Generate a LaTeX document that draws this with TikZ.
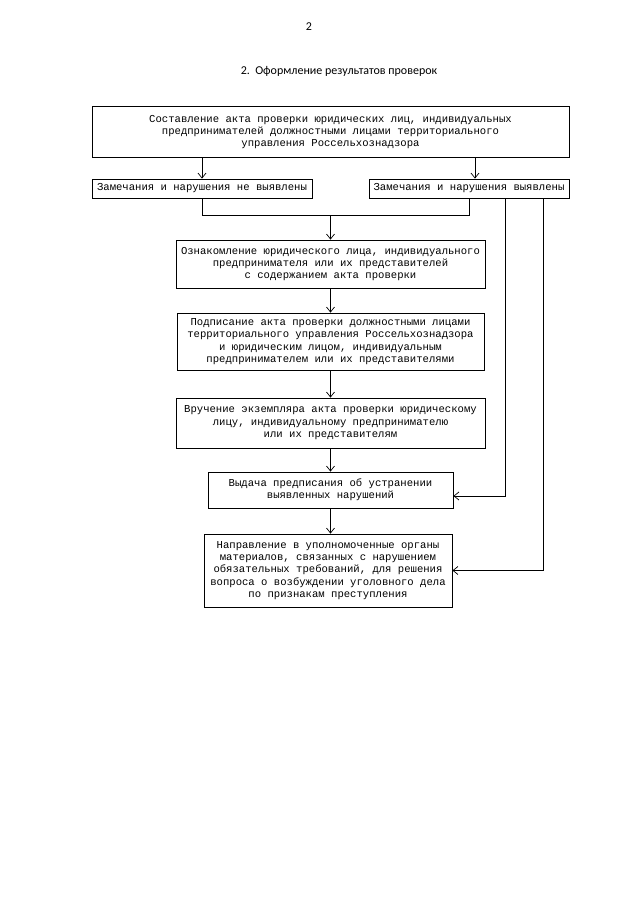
\documentclass[tikz,border=0pt]{standalone}
\usepackage{fontspec}
\setmainfont{Carlito}
\newfontfamily\boxfont{Liberation Mono}
\usepackage{tikz}
\usetikzlibrary{arrows.meta}

\begin{document}
\begin{tikzpicture}[
  x=1pt,y=-1pt,
  blok/.style={draw,line width=0.8pt,align=center,inner sep=1pt,
    font=\boxfont\fontsize{10.6}{12.4}\selectfont},
  arr/.style={line width=0.7pt,-{Straight Barb[length=5pt,width=8pt,line width=0.7pt]}},
  joint/.style={line width=0.7pt},
]
\useasboundingbox[fill=white] (0,0) rectangle (640,905);

\node (page) at (309,27) {\fontsize{12}{14}\selectfont 2};
\node (title) at (339,71) {\fontsize{12}{14}\selectfont 2.\ \ Оформление результатов проверок};

\node[blok,minimum width=477,minimum height=51] (akt) at (330.5,132)
  {Составление акта проверки юридических лиц, индивидуальных\\
   предпринимателей должностными лицами территориального\\
   управления Россельхознадзора};
\node[blok,minimum width=220,minimum height=19] (net) at (202,188.5)
  {Замечания и нарушения не выявлены};
\node[blok,minimum width=200,minimum height=19] (est) at (469,188.5)
  {Замечания и нарушения выявлены};
\node[blok,minimum width=309,minimum height=48] (oznak) at (330.5,264)
  {Ознакомление юридического лица, индивидуального\\
   предпринимателя или их представителей\\
   с содержанием акта проверки};
\node[blok,minimum width=307,minimum height=57] (podpis) at (330.5,341.5)
  {Подписание акта проверки должностными лицами\\
   территориального управления Россельхознадзора\\
   и юридическим лицом, индивидуальным\\
   предпринимателем или их представителями};
\node[blok,minimum width=309,minimum height=50] (vruch) at (330.5,423)
  {Вручение экземпляра акта проверки юридическому\\
   лицу, индивидуальному предпринимателю\\
   или их представителям};
\node[blok,minimum width=245,minimum height=36] (vydacha) at (330.5,490)
  {Выдача предписания об устранении\\
   выявленных нарушений};
\node[blok,minimum width=248,minimum height=73] (napr) at (328,570.5)
  {Направление в уполномоченные органы\\
   материалов, связанных с нарушением\\
   обязательных требований, для решения\\
   вопроса о возбуждении уголовного дела\\
   по признакам преступления};

% from the act to both outcomes
\draw[arr] (net.north |- akt.south) -- (net.north);
\draw[arr] ([xshift=6]est.north |- akt.south) -- ([xshift=6]est.north);

% both outcomes join, then the main chain
\draw[joint] (net.south) -- ++(0,17) coordinate (mrg) -| (est.south);
\draw[arr] (oznak.north |- mrg) -- (oznak.north);
\draw[arr] (oznak) -- (podpis);
\draw[arr] (podpis) -- (vruch);
\draw[arr] (vruch) -- (vydacha);
\draw[arr] (vydacha) -- (napr.north -| vydacha);

% side lines when violations are found
\draw[arr] ([xshift=36]est.south) |- ([yshift=-6]vydacha.east);
\draw[arr] ([xshift=74]est.south) |- (napr.east);
\end{tikzpicture}
\end{document}
